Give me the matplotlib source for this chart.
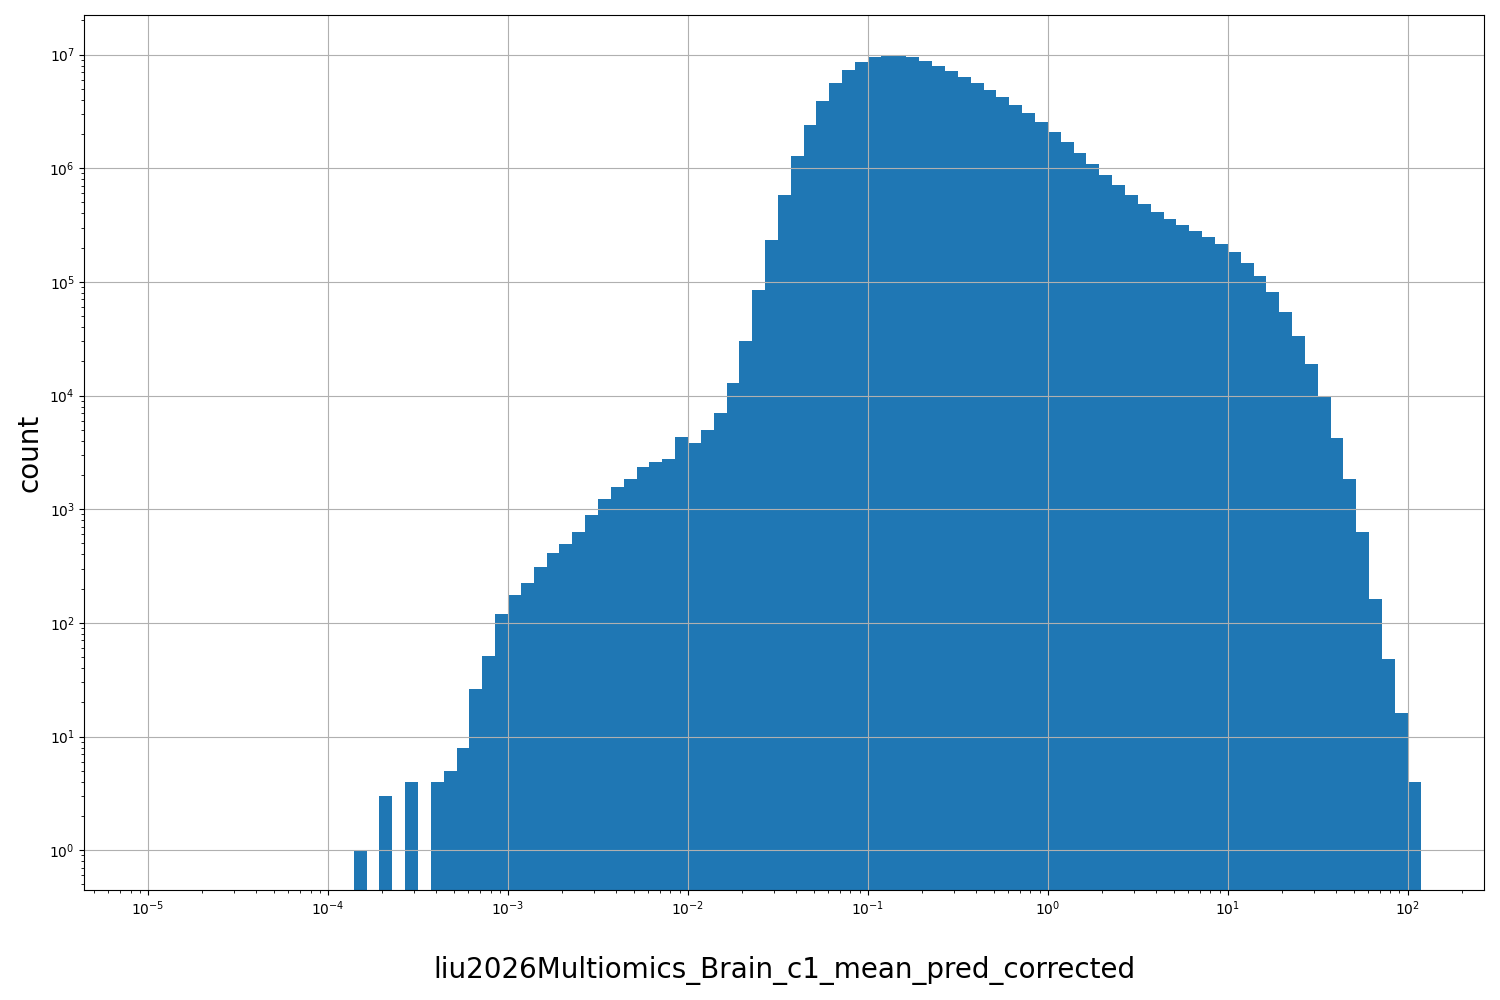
import numpy as np
import matplotlib
matplotlib.use("Agg")
import matplotlib.pyplot as plt

# histogram of mean_pred_corrected, log-spaced bins (99 bins from 1e-5 to ~118)
x_min = 1e-5
x_max = 118.0
n_bins = 99

counts = [
    0, 0, 0, 0, 0, 0, 0, 0, 0, 0, 0, 0, 0, 0, 0, 0,
    1, 0, 3, 0, 4, 0, 4, 5, 8, 26, 51, 119, 176, 224,
    309, 412, 493, 628, 888, 1228, 1566, 1842, 2346, 2596,
    2757, 4305, 3809, 4960, 6997, 12900, 30100, 84600, 232800, 579000,
    1276000, 2390000, 3890000, 5600000, 7300000, 8570000, 9480000, 9900000, 9950000, 9500000,
    8750000, 7900000, 7150000, 6320000, 5600000, 4860000, 4220000, 3590000, 3050000, 2540000,
    2080000, 1700000, 1360000, 1080000, 870000, 710000, 580000, 483000, 410000, 356000,
    316000, 279000, 247000, 215000, 182000, 146000, 112000, 81000, 54000, 33300,
    18900, 9670, 4200, 1830, 630, 162, 48, 16, 4,
]

label = "liu2026Multiomics_Brain_c1_mean_pred_corrected"

edges = np.logspace(np.log10(x_min), np.log10(x_max), n_bins + 1)
centers = np.sqrt(edges[:-1] * edges[1:])

fig, ax = plt.subplots(figsize=(15, 10), dpi=100)
fig.subplots_adjust(left=0.0563, right=0.9895, bottom=0.11, top=0.985)

ax.hist(centers, bins=edges, weights=counts)
ax.set_xscale("log")
ax.set_yscale("log")
ax.grid(True)

ax.set_xlabel(label, fontsize=20, labelpad=27)
ax.set_ylabel("count", fontsize=20)

fig.savefig("out.png")
